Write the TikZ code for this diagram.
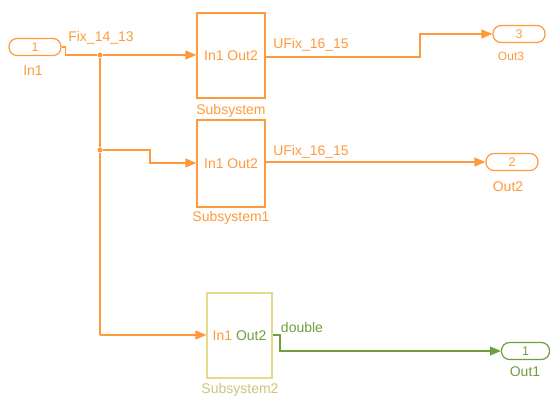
\documentclass[tikz,border=0pt]{standalone}
\usepackage{fontspec}
\setmainfont{Liberation Sans}
\usetikzlibrary{arrows.meta}
\definecolor{sorange}{HTML}{FF9A3C}
\definecolor{sgreen}{HTML}{6E9E3E}
\definecolor{syellow}{HTML}{E6D98A}
\begin{document}
\begin{tikzpicture}[x=1pt,y=-1pt,
  port/.style={draw, rounded corners=8pt, minimum width=52pt, minimum height=17pt, inner sep=0pt, line width=1.2pt, font=\fontsize{12.5}{13}\selectfont},
  block/.style={draw, line width=1.2pt, inner sep=0pt, font=\fontsize{14}{15}\selectfont},
  lbl/.style={font=\fontsize{14}{15}\selectfont, inner sep=0pt},
  wire/.style={line width=1.3pt},
  arr/.style={-{Triangle[length=11pt,width=9pt]}},
  dot/.style={circle, fill, inner sep=0pt, minimum size=5pt}
]
\useasboundingbox (0,0) rectangle (550,396);
% ports
\node[port, sorange] (in1) at (35,47) {1};
\node[lbl, sorange] (in1l) at (33,71) {In1};
\node[port, sorange] (out3) at (519,34) {3};
\node[lbl, sorange, font=\fontsize{12}{13}\selectfont] (out3l) at (511,56) {Out3};
\node[port, sorange] (out2) at (512,162) {2};
\node[lbl, sorange] (out2l) at (508,187) {Out2};
\node[port, sgreen, minimum width=48pt] (out1) at (525.5,351) {1};
\node[lbl, sgreen] (out1l) at (525,372) {Out1};
% blocks
\node[block, sorange, minimum width=68pt, minimum height=85pt] (sub) at (231,55.5) {In1 Out2};
\node[lbl, sorange] (subl) at (231,111) {Subsystem};
\node[block, sorange, minimum width=68pt, minimum height=87pt] (sub1) at (231,163.5) {In1 Out2};
\node[lbl, sorange] (sub1l) at (231,218) {Subsystem1};
\node[block, syellow, minimum width=65pt, minimum height=85pt] (sub2) at (239.5,335.5) {\textcolor{sorange}{In1} \textcolor{sgreen}{Out2}};
\node[lbl, syellow!90!black] (sub2l) at (240,390) {Subsystem2};
% junctions
\node[dot, sorange] (j1) at (100,55) {};
\node[dot, sorange] (j2) at (100,150) {};
\coordinate (c3) at (100,335);
% wires
\draw[wire, sorange] (in1.east) -- ++(4,0) |- (j1);
\draw[wire, sorange, arr] (j1) -- (sub.west |- j1);
\draw[wire, sorange] (j1) -- (j2);
\draw[wire, sorange] (j2) -- (c3);
\draw[wire, sorange, arr] (c3) -- (sub2.west |- c3);
\draw[wire, sorange, arr] (j2) -- (150,150) |- (sub1.west |- 0,163);
\draw[wire, sorange, arr] (sub.east |- 0,57) -- (420,57) |- (out3.west);
\draw[wire, sorange, arr] (sub1.east |- out2.west) -- (out2.west);
\draw[wire, sgreen, arr] (sub2.east |- 0,335) -- (280,335) |- (out1.west);
% wire labels
\node[lbl, sorange] (l1) at (101,38) {Fix\_14\_13};
\node[lbl, sorange] (l2) at (311,45) {UFix\_16\_15};
\node[lbl, sorange] (l3) at (311,152) {UFix\_16\_15};
\node[lbl, sgreen] (l4) at (302,327) {double};
\end{tikzpicture}
\end{document}
